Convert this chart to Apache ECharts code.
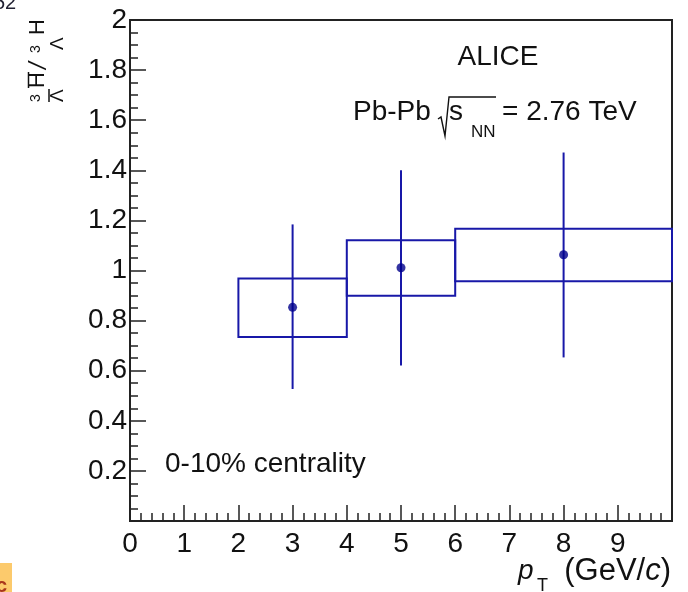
<!DOCTYPE html>
<html><head><meta charset="utf-8">
<script src="https://cdn.jsdelivr.net/npm/echarts@6/dist/echarts.min.js"></script>
<style>html,body{margin:0;padding:0;background:#fff}#c{width:688px;height:592px}</style>
</head><body><div id="c"></div>
<script>
// pT bins (GeV/c)
const ptCenter = [3, 5, 8];
const binLow = [2, 4, 6];
const binHigh = [4, 6, 10];
// anti-hypertriton / hypertriton ratio
const ratio = [0.853, 1.011, 1.063];
const statLow = [0.527, 0.621, 0.653];
const statHigh = [1.184, 1.400, 1.471];
const sysLow = [0.735, 0.899, 0.957];
const sysHigh = [0.968, 1.121, 1.167];

const FONT = "'Liberation Sans', Arial, sans-serif";
const LINE = '#1818a8';
const DOT = '#00008b';
const INK = '#111';
const AX = '#222';

const boxData = binLow.map((b, i) => [b, binHigh[i], sysLow[i], sysHigh[i]]);
const errData = ptCenter.map((x, i) => [x, statLow[i], statHigh[i]]);
const ptData = ptCenter.map((x, i) => [x, ratio[i]]);

function txt(x, y, text, size, opts) {
  opts = opts || {};
  return Object.assign({
    type: 'text', x: x, y: y,
    style: Object.assign({
      text: text, x: 0, y: 0,
      font: (opts.italic ? 'italic ' : '') + size + 'px ' + FONT,
      fill: INK,
      align: opts.align || 'left', textAlign: opts.align || 'left',
      verticalAlign: 'middle', textVerticalAlign: 'middle'
    }, opts.style || {})
  }, opts.el || {});
}

const chart = echarts.init(document.getElementById('c'));
chart.setOption({
  animation: false,
  grid: { left: 130, right: 16, top: 20, bottom: 71, show: true, borderColor: AX, borderWidth: 2 },
  xAxis: {
    type: 'value', min: 0, max: 10, interval: 1,
    axisLine: { onZero: false, lineStyle: { color: AX, width: 2 } },
    axisTick: { inside: true, length: 16, lineStyle: { color: AX, width: 1.5 } },
    minorTick: { show: true, splitNumber: 5, length: 8, lineStyle: { color: AX, width: 1.5 } },
    splitLine: { show: false }, minorSplitLine: { show: false },
    axisLabel: { color: INK, fontFamily: FONT, fontSize: 28, margin: 9,
      formatter: v => (v >= 10 ? '' : String(v)) }
  },
  yAxis: {
    type: 'value', min: 0, max: 2, interval: 0.2,
    axisLine: { onZero: false, lineStyle: { color: AX, width: 2 } },
    axisTick: { inside: true, length: 16, lineStyle: { color: AX, width: 1.5 } },
    minorTick: { show: true, splitNumber: 4, length: 8, lineStyle: { color: AX, width: 1.5 } },
    splitLine: { show: false }, minorSplitLine: { show: false },
    axisLabel: { color: INK, fontFamily: FONT, fontSize: 28, margin: 3,
      formatter: v => (v === 0 ? '' : String(+v.toFixed(1))) }
  },
  series: [
    {
      type: 'custom', name: 'syst', data: boxData, encode: { x: [0, 1], y: [2, 3] },
      renderItem: (params, api) => {
        const a = api.coord([api.value(0), api.value(3)]);
        const b = api.coord([api.value(1), api.value(2)]);
        return { type: 'rect', shape: { x: a[0], y: a[1], width: b[0] - a[0], height: b[1] - a[1] },
          style: { fill: 'none', stroke: LINE, lineWidth: 2 } };
      }
    },
    {
      type: 'custom', name: 'stat', data: errData, encode: { x: 0, y: [1, 2] },
      renderItem: (params, api) => {
        const a = api.coord([api.value(0), api.value(1)]);
        const b = api.coord([api.value(0), api.value(2)]);
        return { type: 'line', shape: { x1: a[0], y1: a[1], x2: b[0], y2: b[1] },
          style: { stroke: LINE, lineWidth: 2 } };
      }
    },
    {
      type: 'scatter', name: 'ratio', data: ptData, symbol: 'circle', symbolSize: 9,
      itemStyle: { color: DOT }, z: 5
    }
  ],
  graphic: [
    txt(498, 57, 'ALICE', 28, { align: 'center' }),
    txt(353, 112, 'Pb-Pb', 28),
    { type: 'polyline', shape: { points: [[438, 119], [441, 117], [445, 136], [449, 97], [496, 97]] },
      style: { stroke: INK, lineWidth: 1.4, fill: null } },
    txt(449, 112, 's', 28),
    txt(471, 132, 'NN', 17),
    txt(502, 112, '= 2.76 TeV', 28),
    txt(165, 464, '0-10% centrality', 28),
    // x axis title
    txt(518, 571, 'p', 28, { italic: true }),
    txt(537, 586, 'T', 18),
    { type: 'text', x: 671, y: 571, style: {
        text: '{n|(GeV/}{i|c}{n|)}', x: 0, y: 0, align: 'right', textAlign: 'right',
        verticalAlign: 'middle', textVerticalAlign: 'middle', fill: INK,
        rich: { n: { font: '31px ' + FONT, fill: INK }, i: { font: 'italic 31px ' + FONT, fill: INK } } } },
    // y axis title (rotated)
    { type: 'group', x: 0, y: 105, rotation: Math.PI / 2, children: [
      txt(3, 36.5, '3', 14),
      txt(3, 57.5, 'Λ', 19),
      { type: 'line', shape: { x1: 3, y1: 49, x2: 16, y2: 49 }, style: { stroke: INK, lineWidth: 1.5 } },
      txt(17, 38, 'H', 22),
      { type: 'line', shape: { x1: 17, y1: 28.5, x2: 33, y2: 28.5 }, style: { stroke: INK, lineWidth: 1.5 } },
      txt(36, 39, '/', 24, { italic: true }),
      txt(52, 36.5, '3', 14),
      txt(55, 57.5, 'Λ', 19),
      txt(70, 38, 'H', 22)
    ] },
    // cropped fragments at the edges
    txt(-6, 3, '52', 20, { style: { fill: '#223' } }),
    { type: 'rect', shape: { x: 0, y: 563, width: 12, height: 29 }, style: { fill: '#fcca6c' } },
    txt(-4, 586, 'c', 20, { style: { fill: '#a8361c', font: 'bold 20px ' + FONT } })
  ]
});
</script></body></html>
